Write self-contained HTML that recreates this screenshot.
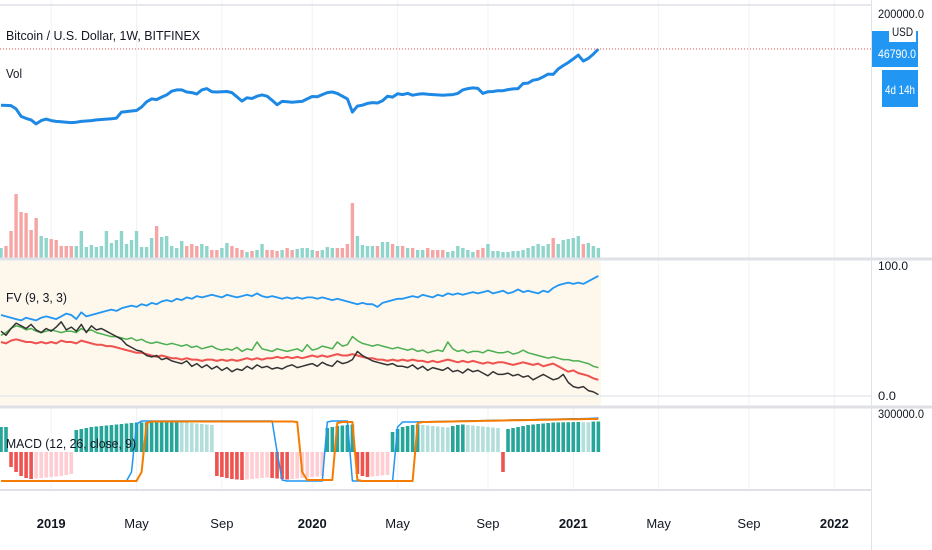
<!DOCTYPE html>
<html><head><meta charset="utf-8"><style>
html,body{margin:0;padding:0;background:#fff;}
svg{display:block;font-family:"Liberation Sans",sans-serif;}
</style></head><body>
<svg id="chart" width="932" height="550" viewBox="0 0 932 550" xmlns="http://www.w3.org/2000/svg">
<rect x="0" y="0" width="932" height="550" fill="#fff"/>
<g id="grid"></g>
<rect x="0" y="261" width="601" height="146" fill="#fdf7ec"/>
<g id="marks"></g>
<line x1="0" y1="5" x2="871" y2="5" stroke="#e6e8ee" stroke-width="2"/>
<line x1="0" y1="259" x2="932" y2="259" stroke="#dfe1e6" stroke-width="3"/>
<line x1="0" y1="407" x2="932" y2="407" stroke="#dfe1e6" stroke-width="3"/>
<line x1="0" y1="490" x2="871" y2="490" stroke="#dfe1e6" stroke-width="2"/>
<line x1="0" y1="396" x2="871" y2="396" stroke="#e6e8ee" stroke-width="1.5"/>
<line x1="871.5" y1="0" x2="871.5" y2="550" stroke="#e0e3eb" stroke-width="1"/>
<line x1="0" y1="49" x2="871" y2="49" stroke="#ef5350" stroke-width="1" stroke-dasharray="1,2"/>
<text x="6" y="40" font-size="13" fill="#131722" textLength="194" lengthAdjust="spacingAndGlyphs">Bitcoin / U.S. Dollar, 1W, BITFINEX</text>
<text x="6" y="78" font-size="13" fill="#131722" textLength="16" lengthAdjust="spacingAndGlyphs">Vol</text>
<text x="6" y="302" font-size="13" fill="#131722" textLength="61" lengthAdjust="spacingAndGlyphs">FV (9, 3, 3)</text>
<text x="6" y="448" font-size="13" fill="#131722" textLength="130" lengthAdjust="spacingAndGlyphs">MACD (12, 26, close, 9)</text>
<text x="878" y="18" font-size="12" fill="#131722" textLength="46" lengthAdjust="spacingAndGlyphs">200000.0</text>
<rect x="872" y="31" width="46" height="36" fill="#2196f3"/>
<text x="878" y="58" font-size="12" fill="#fff" textLength="38" lengthAdjust="spacingAndGlyphs">46790.0</text>
<rect x="889" y="20" width="27" height="22" fill="#fff"/>
<text x="892" y="36" font-size="12" fill="#131722" textLength="21" lengthAdjust="spacingAndGlyphs">USD</text>
<rect x="882" y="70" width="36" height="37" fill="#2196f3"/>
<text x="885" y="94" font-size="12" fill="#fff" textLength="30" lengthAdjust="spacingAndGlyphs">4d 14h</text>
<text x="878" y="270" font-size="12" fill="#131722" textLength="30" lengthAdjust="spacingAndGlyphs">100.0</text>
<text x="878" y="400" font-size="12" fill="#131722" textLength="18" lengthAdjust="spacingAndGlyphs">0.0</text>
<text x="878" y="418" font-size="12" fill="#131722" textLength="46" lengthAdjust="spacingAndGlyphs">300000.0</text>
<g id="timeaxis"></g>
</svg>
<script>
const prices=[6400,6350,6300,5600,4300,4000,3800,3300,3700,3900,3700,3600,3550,3500,3450,3500,3600,3650,3700,3800,3850,3900,3950,4050,5000,5100,5200,5300,6000,7200,8000,7800,8500,9200,10500,11000,11000,10200,10000,9500,11000,11500,10300,10200,10300,10400,10000,8600,7400,8300,8100,8800,9200,8800,7600,6500,7300,7200,7100,7200,7300,8000,8700,8600,9300,10000,10200,9700,8800,8000,5000,6200,6400,6800,7000,6900,7500,8800,8500,9600,9300,9700,9100,9400,9600,9400,9300,9200,9100,9200,9300,9700,11000,11500,11800,11600,9700,10300,10400,10700,10700,11100,11400,11500,13800,14000,15500,16000,17500,19200,19000,23000,26000,29000,33000,37700,30500,33500,39000,46790];
const volumes=[10,12,27,64,46,45,28,40,22,20,19,18,12,12,12,12,27,11,13,11,12,27,15,18,27,14,18,27,11,11,20,32,21,22,12,10,17,12,14,12,14,12,8,8,10,15,12,10,8,6,7,8,14,8,8,7,8,10,8,9,10,10,8,7,8,11,10,10,10,14,55,22,13,12,12,12,16,16,14,12,12,10,10,8,8,10,8,8,8,6,7,12,10,8,6,8,10,14,7,7,6,6,7,7,8,10,12,14,12,14,20,14,18,19,20,22,14,15,12,10];
const fvBlue=[60,59,58,57,56,58,57,56,58,59,58,57,59,61,60,57,62,59,60,61,62,63,64,63,65,66,67,66,68,67,69,68,70,71,70,72,71,73,72,74,73,74,75,74,73,75,74,73,74,75,74,76,74,73,74,73,72,73,72,73,72,73,73,72,73,72,71,72,71,70,69,68,69,68,68,66,69,70,71,72,72,73,74,73,75,74,73,75,74,76,75,76,75,76,77,76,77,78,76,77,78,76,77,79,77,78,77,76,78,77,80,82,83,84,83,84,83,85,87,89];
const fvGreen=[45,47,50,52,51,49,50,48,47,48,49,48,47,48,48,47,50,48,49,47,46,45,44,44,43,42,43,41,42,40,39,40,39,38,39,38,37,38,36,37,35,36,37,35,34,35,34,36,33,35,34,40,35,34,33,35,34,33,34,35,33,38,34,35,37,36,35,40,37,38,44,41,39,38,37,38,37,36,35,36,35,34,35,33,34,32,33,34,33,40,35,33,34,32,33,33,32,34,33,32,32,33,31,32,34,32,31,30,29,28,29,28,27,27,26,26,25,24,22,21];
const fvRed=[40,39,41,42,41,40,40,39,40,39,40,39,41,40,40,39,41,40,39,38,38,37,37,36,35,34,33,32,32,31,30,29,30,29,28,28,27,28,27,27,26,27,27,26,27,26,27,26,27,28,27,28,27,28,28,29,28,29,28,29,28,29,30,29,30,29,30,31,30,30,31,30,29,28,28,27,27,26,27,26,27,26,27,26,26,25,26,25,26,27,26,25,26,25,26,25,24,25,24,25,25,24,23,24,25,24,23,24,22,23,24,22,20,18,19,17,16,15,13,12];
const fvBlack=[48,45,50,54,52,50,53,49,47,50,48,51,55,49,51,48,53,47,52,49,50,48,46,44,42,38,36,34,33,30,29,30,27,28,26,25,24,26,22,24,21,23,20,22,19,21,18,20,19,22,20,23,21,22,20,21,20,22,23,21,22,23,24,22,25,23,22,26,24,25,27,33,30,28,26,25,24,23,24,22,22,21,23,20,22,19,21,20,19,21,18,19,17,20,18,19,17,15,18,16,16,17,15,16,14,15,12,14,16,14,12,13,16,10,7,6,7,4,3,1];
const macdHist=[2500,2500,-1500,-2000,-2400,-2600,-2700,-2650,-2600,-2550,-2500,-2450,-2400,-2300,-2200,2200,2300,2400,2500,2550,2600,2650,2700,2750,2800,2850,2900,2950,2960,2970,2980,2990,3000,3010,3020,3030,3000,2950,2900,2850,2800,2750,2700,-2400,-2500,-2600,-2700,-2750,-2800,-2750,-2700,-2650,-2600,-2550,-2600,-2650,-2700,-2750,-2700,-2650,-2600,-2550,-2500,-2450,-2400,2400,2500,2600,2650,2700,2750,-2200,-2400,-2500,-2450,-2400,-2350,-2300,2000,2300,2500,2600,2700,2750,2700,2650,2600,2550,2500,2450,2600,2700,2750,2700,2650,2600,2550,2500,2450,2400,-2000,2300,2400,2500,2600,2700,2750,2800,2850,2900,2950,2960,2970,2980,2990,3000,2980,2970,3040,3050];
const macdLine=[-2900,-2900,-2900,-2900,-2900,-2900,-2900,-2900,-2900,-2900,-2900,-2900,-2900,-2900,-2900,-2900,-2900,-2900,-2900,-2900,-2900,-2900,-2900,-2900,-2900,-2900,-2000,2800,3100,3100,3100,3100,3100,3100,3100,3100,3100,3100,3100,3100,3100,3100,3100,3100,3100,3100,3100,3100,3100,3100,3100,3100,3100,3100,3100,0,-2800,-2900,-2900,-2900,-2900,-2900,-2900,-2900,-2900,3000,3100,3100,3100,3100,-2900,-2900,-2900,-2900,-2900,-2900,-2900,-2900,-2900,2500,3000,3000,3000,3010,3020,3030,3040,3050,3060,3070,3080,3090,3100,3110,3120,3130,3140,3150,3160,3170,3180,3190,3200,3210,3220,3230,3240,3250,3260,3270,3280,3290,3300,3310,3320,3330,3340,3350,3370,3400];
const signalLine=[-2900,-2900,-2900,-2900,-2900,-2900,-2900,-2900,-2900,-2900,-2900,-2900,-2900,-2900,-2900,-2900,-2900,-2900,-2900,-2900,-2900,-2900,-2900,-2900,-2900,-2900,-2900,-2900,-2000,2900,3050,3050,3050,3050,3050,3050,3050,3050,3050,3050,3050,3050,3050,3050,3050,3050,3050,3050,3050,3050,3050,3050,3050,3050,3050,3050,3050,3050,3050,3000,-2000,-2800,-2800,-2800,-2800,-2800,-2800,2900,3000,3000,3000,-2800,-2900,-2900,-2900,-2900,-2900,-2900,-2900,-2900,-2900,-2900,-2900,2900,3000,3000,3010,3020,3030,3040,3050,3060,3070,3080,3090,3100,3110,3120,3130,3140,3150,3160,3170,3180,3190,3200,3200,3210,3220,3230,3240,3250,3260,3270,3270,3280,3290,3300,3300,3300];
const timeLabels=["2019","May","Sep","2020","May","Sep","2021","May","Sep","2022"];
const timeLabelWeeks=[10,27,44,62,79,97,114,131,149,166];
const timeLabelBold=[true,false,false,true,false,false,true,false,false,true];

const NS="http://www.w3.org/2000/svg";
const xOf=i=>1+i*5.02;
const yPrice=p=>49-(Math.log10(p)-Math.log10(46790))*65;
const yVol=v=>258-v;
const yFV=v=>396-v*1.35;
const yMacd=v=>452-v/100;
const marks=document.getElementById('marks');
const grid=document.getElementById('grid');
const tax=document.getElementById('timeaxis');
function mk(tag,attrs,parent){const e=document.createElementNS(NS,tag);for(const k in attrs)e.setAttribute(k,attrs[k]);parent.appendChild(e);return e;}

timeLabels.forEach((t,i)=>{
  const x=xOf(timeLabelWeeks[i]);
  const gl=mk('line',{x1:x,y1:0,x2:x,y2:490,stroke:'#f0f2f6','stroke-width':1},grid);
  
  
  const tx=mk('text',{x:x,y:528,'text-anchor':'middle','font-size':13,fill:'#131722','font-weight':timeLabelBold[i]?'bold':'normal'},tax);
  tx.textContent=t;
  
  
});

volumes.forEach((v,i)=>{
  const down=i>0&&prices[i]<prices[i-1];
  const r=mk('rect',{x:xOf(i)-1.7,y:yVol(v),width:3.4,height:v,fill:down?'#f5a6a4':'#8fd5cb'},marks);
  
  
});

macdHist.forEach((v,i)=>{
  const prev=i>0?macdHist[i-1]:v;
  let c;
  if(v>=0)c=(v>=prev)?'#26a69a':'#b2dfdb';else c=(v<=prev)?'#ef5350':'#ffcdd2';
  const y0=yMacd(0),y1=yMacd(v);
  const r=mk('rect',{x:xOf(i)-1.8,y:Math.min(y0,y1),width:3.6,height:Math.abs(y1-y0),fill:c},marks);
  
  
});

function line(arr,yf,color,w,name){
  const d=arr.map((v,i)=>(i?'L':'M')+xOf(i).toFixed(1)+','+yf(v).toFixed(1)).join('');
  const p=mk('path',{d:d,fill:'none',stroke:color,'stroke-width':w,'stroke-linejoin':'round'},marks);
  
  
}
line(prices,yPrice,'#1e88e5',3,'price-line');
line(fvGreen,yFV,'#4caf50',1.5,'fv-green-line');
line(fvRed,yFV,'#ef5350',2,'fv-red-line');
line(fvBlack,yFV,'#333333',1.5,'fv-black-line');
line(fvBlue,yFV,'#2196f3',1.8,'fv-blue-line');
line(macdLine,yMacd,'#2196f3',1.5,'macd-line');
line(signalLine,yMacd,'#f57c00',2,'signal-line');
</script>
</body></html>
